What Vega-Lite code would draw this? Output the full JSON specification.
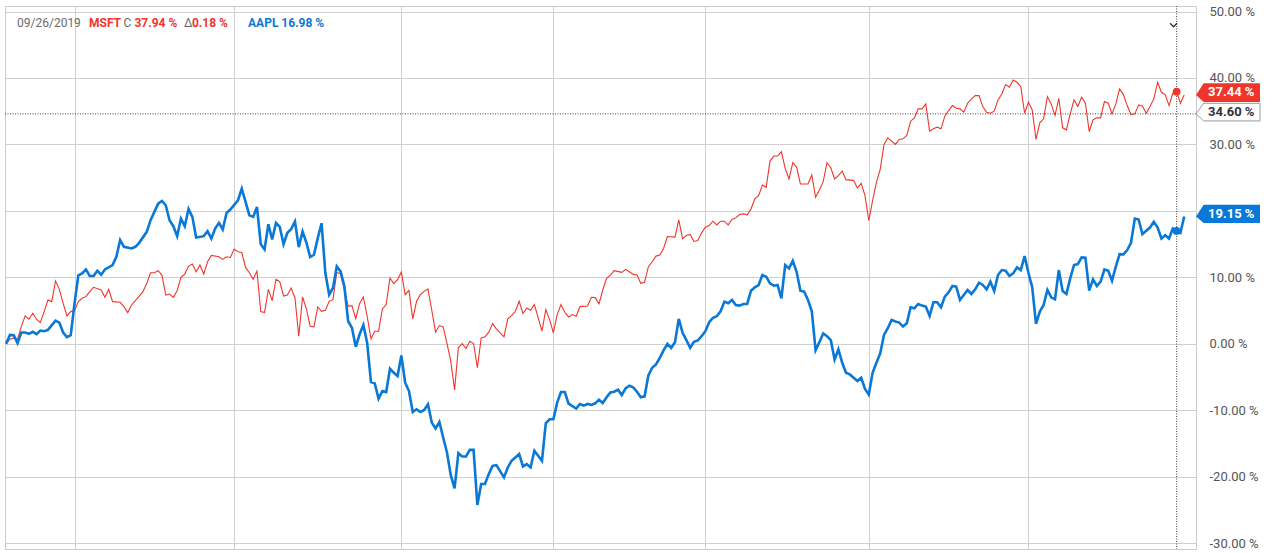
{
  "$schema": "https://vega.github.io/schema/vega-lite/v6.json",
  "width": 1191,
  "height": 543,
  "autosize": {"type": "none"},
  "padding": {"left": 5, "top": 6, "right": 84, "bottom": 4},
  "background": "white",
  "config": {"view": {"stroke": "#cccccc", "strokeWidth": 1}, "font": "Roboto"},
  "datasets": {
    "msft": [
      {"day":0,"pct":0},{"day":1,"pct":0.7},{"day":2,"pct":0.85},{"day":3,"pct":0.7},{"day":4,"pct":2.6},{"day":5,"pct":4.2},{"day":6,"pct":3.7},{"day":7,"pct":4.6},{"day":8,"pct":3.7},{"day":9,"pct":3.2},{"day":10,"pct":4.85},{"day":11,"pct":6.6},{"day":12,"pct":6.35},{"day":13,"pct":9.45},{"day":14,"pct":8.2},{"day":15,"pct":6.1},{"day":16,"pct":4.2},{"day":17,"pct":4.85},{"day":18,"pct":5.0},{"day":19,"pct":6.35},{"day":20,"pct":6.85},{"day":21,"pct":7.1},{"day":22,"pct":7.85},{"day":23,"pct":8.5},{"day":25,"pct":8.1},{"day":26,"pct":7.0},{"day":27,"pct":8.2},{"day":28,"pct":6.35},{"day":30,"pct":6.25},{"day":31,"pct":5.6},{"day":32,"pct":4.7},{"day":33,"pct":5.85},{"day":34,"pct":6.5},{"day":36,"pct":7.85},{"day":37,"pct":9.1},{"day":38,"pct":10.7},{"day":39,"pct":10.7},{"day":40,"pct":11.0},{"day":41,"pct":10.35},{"day":42,"pct":7.35},{"day":43,"pct":7.5},{"day":44,"pct":7.0},{"day":45,"pct":8.0},{"day":46,"pct":10.0},{"day":47,"pct":10.5},{"day":48,"pct":11.7},{"day":49,"pct":12.0},{"day":50,"pct":10.85},{"day":51,"pct":11.85},{"day":52,"pct":10.5},{"day":53,"pct":12.35},{"day":54,"pct":13.3},{"day":56,"pct":13.1},{"day":57,"pct":12.7},{"day":58,"pct":13.1},{"day":59,"pct":13.0},{"day":60,"pct":14.25},{"day":61,"pct":13.85},{"day":62,"pct":13.75},{"day":63,"pct":11.5},{"day":64,"pct":10.7},{"day":65,"pct":9.7},{"day":66,"pct":10.95},{"day":67,"pct":4.85},{"day":68,"pct":4.7},{"day":69,"pct":8.2},{"day":70,"pct":6.5},{"day":71,"pct":9.7},{"day":72,"pct":9.35},{"day":73,"pct":7.2},{"day":74,"pct":7.35},{"day":75,"pct":8.4},{"day":76,"pct":6.9},{"day":77,"pct":1.15},{"day":78,"pct":7.05},{"day":79,"pct":5.25},{"day":80,"pct":2.65},{"day":81,"pct":2.55},{"day":82,"pct":5.55},{"day":83,"pct":4.9},{"day":84,"pct":5.05},{"day":85,"pct":6.4},{"day":86,"pct":6.65},{"day":87,"pct":10.75},{"day":88,"pct":10.55},{"day":89,"pct":8.15},{"day":90,"pct":5.65},{"day":91,"pct":5.75},{"day":92,"pct":3.8},{"day":93,"pct":6.05},{"day":94,"pct":7.05},{"day":95,"pct":4.15},{"day":96,"pct":0.75},{"day":97,"pct":1.9},{"day":98,"pct":1.9},{"day":99,"pct":5.25},{"day":100,"pct":5.9},{"day":101,"pct":9.9},{"day":102,"pct":9.05},{"day":103,"pct":9.65},{"day":104,"pct":10.8},{"day":105,"pct":7.4},{"day":106,"pct":8.05},{"day":107,"pct":3.75},{"day":108,"pct":6.4},{"day":109,"pct":7.4},{"day":110,"pct":7.9},{"day":111,"pct":8.25},{"day":112,"pct":5.05},{"day":113,"pct":1.75},{"day":114,"pct":2.75},{"day":115,"pct":2.55},{"day":116,"pct":0.05},{"day":117,"pct":-2.6},{"day":118,"pct":-6.95},{"day":119,"pct":-0.6},{"day":120,"pct":0.05},{"day":121,"pct":-0.7},{"day":122,"pct":0.4},{"day":123,"pct":0.05},{"day":124,"pct":-3.6},{"day":125,"pct":0.9},{"day":126,"pct":1.05},{"day":127,"pct":1.75},{"day":128,"pct":3.05},{"day":129,"pct":2.25},{"day":131,"pct":1.05},{"day":132,"pct":3.75},{"day":133,"pct":4.25},{"day":134,"pct":4.9},{"day":135,"pct":6.4},{"day":136,"pct":4.55},{"day":137,"pct":5.4},{"day":138,"pct":5.05},{"day":139,"pct":5.9},{"day":141,"pct":1.9},{"day":142,"pct":5.15},{"day":143,"pct":3.65},{"day":144,"pct":1.65},{"day":145,"pct":4.4},{"day":146,"pct":5.9},{"day":147,"pct":4.75},{"day":148,"pct":4.05},{"day":149,"pct":4.4},{"day":150,"pct":4.15},{"day":151,"pct":5.6},{"day":153,"pct":5.7},{"day":154,"pct":7.0},{"day":155,"pct":6.95},{"day":156,"pct":6.0},{"day":157,"pct":8.1},{"day":158,"pct":9.85},{"day":159,"pct":10.35},{"day":160,"pct":11.0},{"day":162,"pct":10.75},{"day":163,"pct":11.2},{"day":164,"pct":10.85},{"day":165,"pct":10.45},{"day":166,"pct":10.35},{"day":167,"pct":9.1},{"day":168,"pct":9.25},{"day":169,"pct":11.6},{"day":170,"pct":12.35},{"day":171,"pct":13.2},{"day":172,"pct":13.35},{"day":173,"pct":14.35},{"day":174,"pct":16.15},{"day":176,"pct":16.05},{"day":177,"pct":18.65},{"day":178,"pct":15.8},{"day":179,"pct":16.3},{"day":180,"pct":16.45},{"day":181,"pct":15.4},{"day":182,"pct":15.55},{"day":183,"pct":16.7},{"day":184,"pct":17.55},{"day":185,"pct":17.8},{"day":186,"pct":18.45},{"day":187,"pct":17.9},{"day":188,"pct":18.45},{"day":189,"pct":18.45},{"day":190,"pct":17.9},{"day":191,"pct":18.7},{"day":192,"pct":18.95},{"day":193,"pct":19.45},{"day":194,"pct":19.55},{"day":195,"pct":19.4},{"day":196,"pct":20.3},{"day":197,"pct":21.8},{"day":198,"pct":22.3},{"day":199,"pct":23.9},{"day":200,"pct":23.55},{"day":201,"pct":27.5},{"day":202,"pct":28.25},{"day":203,"pct":28.25},{"day":204,"pct":28.9},{"day":205,"pct":26.4},{"day":206,"pct":24.8},{"day":207,"pct":27.25},{"day":208,"pct":26.6},{"day":209,"pct":24.05},{"day":211,"pct":24.05},{"day":212,"pct":25.4},{"day":213,"pct":22.05},{"day":214,"pct":23.15},{"day":215,"pct":24.4},{"day":216,"pct":27.25},{"day":217,"pct":26.5},{"day":218,"pct":24.8},{"day":219,"pct":25.3},{"day":220,"pct":26.0},{"day":221,"pct":24.7},{"day":223,"pct":24.6},{"day":224,"pct":23.45},{"day":225,"pct":24.15},{"day":226,"pct":22.3},{"day":227,"pct":18.55},{"day":228,"pct":21.55},{"day":229,"pct":24.3},{"day":230,"pct":26.25},{"day":231,"pct":30.0},{"day":232,"pct":31.0},{"day":234,"pct":30.0},{"day":235,"pct":30.75},{"day":236,"pct":30.85},{"day":237,"pct":31.35},{"day":238,"pct":33.5},{"day":239,"pct":34.0},{"day":240,"pct":35.35},{"day":241,"pct":35.35},{"day":242,"pct":36.1},{"day":243,"pct":32.0},{"day":244,"pct":32.35},{"day":245,"pct":32.6},{"day":246,"pct":32.35},{"day":247,"pct":34.25},{"day":248,"pct":35.1},{"day":249,"pct":35.85},{"day":250,"pct":35.45},{"day":251,"pct":35.35},{"day":252,"pct":34.85},{"day":253,"pct":36.2},{"day":254,"pct":36.85},{"day":255,"pct":37.35},{"day":256,"pct":37.35},{"day":257,"pct":35.7},{"day":258,"pct":34.85},{"day":259,"pct":34.7},{"day":260,"pct":35.0},{"day":261,"pct":36.7},{"day":262,"pct":37.6},{"day":263,"pct":39.0},{"day":264,"pct":38.6},{"day":265,"pct":39.7},{"day":266,"pct":39.35},{"day":267,"pct":38.7},{"day":268,"pct":34.7},{"day":269,"pct":36.35},{"day":270,"pct":35.2},{"day":271,"pct":30.75},{"day":272,"pct":33.25},{"day":273,"pct":33.85},{"day":274,"pct":37.2},{"day":275,"pct":36.1},{"day":276,"pct":34.35},{"day":277,"pct":36.95},{"day":278,"pct":32.5},{"day":279,"pct":32.2},{"day":280,"pct":34.6},{"day":281,"pct":36.7},{"day":282,"pct":35.7},{"day":283,"pct":37.1},{"day":284,"pct":36.2},{"day":285,"pct":31.95},{"day":286,"pct":33.7},{"day":287,"pct":34.0},{"day":288,"pct":34.0},{"day":289,"pct":36.45},{"day":290,"pct":36.2},{"day":291,"pct":34.6},{"day":292,"pct":36.1},{"day":293,"pct":38.35},{"day":294,"pct":37.5},{"day":295,"pct":35.85},{"day":296,"pct":34.5},{"day":297,"pct":34.6},{"day":298,"pct":35.95},{"day":299,"pct":35.75},{"day":300,"pct":34.7},{"day":301,"pct":35.7},{"day":302,"pct":36.85},{"day":303,"pct":39.35},{"day":304,"pct":37.85},{"day":305,"pct":37.5},{"day":306,"pct":35.85},{"day":307,"pct":37.7},{"day":308,"pct":37.94},{"day":309,"pct":36.2},{"day":310,"pct":37.44}
    ],
    "aapl": [
      {"day":0,"pct":0},{"day":1,"pct":1.35},{"day":2,"pct":1.3},{"day":3,"pct":0.1},{"day":4,"pct":1.7},{"day":5,"pct":1.7},{"day":6,"pct":1.5},{"day":7,"pct":1.8},{"day":8,"pct":1.45},{"day":9,"pct":2.0},{"day":10,"pct":1.9},{"day":11,"pct":2.1},{"day":13,"pct":3.5},{"day":14,"pct":3.2},{"day":15,"pct":1.7},{"day":16,"pct":1.0},{"day":17,"pct":1.3},{"day":18,"pct":6.1},{"day":19,"pct":10.3},{"day":20,"pct":10.6},{"day":21,"pct":11.2},{"day":22,"pct":10.2},{"day":23,"pct":10.2},{"day":24,"pct":11.0},{"day":25,"pct":10.4},{"day":26,"pct":11.2},{"day":28,"pct":11.85},{"day":29,"pct":13.1},{"day":30,"pct":15.6},{"day":31,"pct":14.6},{"day":33,"pct":14.35},{"day":34,"pct":14.6},{"day":35,"pct":15.2},{"day":37,"pct":16.85},{"day":38,"pct":18.6},{"day":40,"pct":21.1},{"day":41,"pct":21.5},{"day":42,"pct":20.85},{"day":43,"pct":18.6},{"day":44,"pct":17.7},{"day":45,"pct":16.2},{"day":46,"pct":18.85},{"day":47,"pct":17.7},{"day":48,"pct":20.3},{"day":49,"pct":19.1},{"day":50,"pct":16.0},{"day":52,"pct":16.2},{"day":53,"pct":16.95},{"day":54,"pct":15.85},{"day":55,"pct":17.35},{"day":56,"pct":18.2},{"day":57,"pct":17.2},{"day":58,"pct":19.7},{"day":59,"pct":20.2},{"day":61,"pct":21.6},{"day":62,"pct":23.35},{"day":63,"pct":21.35},{"day":64,"pct":19.35},{"day":65,"pct":19.1},{"day":66,"pct":20.6},{"day":67,"pct":15.0},{"day":68,"pct":14.2},{"day":69,"pct":18.0},{"day":70,"pct":15.7},{"day":71,"pct":18.2},{"day":72,"pct":17.6},{"day":73,"pct":15.0},{"day":74,"pct":16.7},{"day":75,"pct":17.25},{"day":76,"pct":18.4},{"day":77,"pct":14.55},{"day":78,"pct":16.9},{"day":79,"pct":15.25},{"day":80,"pct":13.05},{"day":81,"pct":13.4},{"day":82,"pct":15.9},{"day":83,"pct":18.15},{"day":84,"pct":10.65},{"day":85,"pct":7.4},{"day":86,"pct":8.4},{"day":87,"pct":11.65},{"day":88,"pct":10.9},{"day":89,"pct":8.65},{"day":90,"pct":3.4},{"day":91,"pct":2.4},{"day":92,"pct":-0.45},{"day":93,"pct":1.4},{"day":94,"pct":2.85},{"day":95,"pct":0.15},{"day":96,"pct":-5.75},{"day":97,"pct":-5.95},{"day":98,"pct":-8.25},{"day":99,"pct":-7.1},{"day":100,"pct":-7.25},{"day":101,"pct":-3.75},{"day":102,"pct":-4.35},{"day":103,"pct":-4.85},{"day":104,"pct":-1.75},{"day":105,"pct":-5.85},{"day":106,"pct":-7.1},{"day":107,"pct":-10.25},{"day":108,"pct":-9.85},{"day":109,"pct":-10.25},{"day":110,"pct":-9.95},{"day":111,"pct":-9.1},{"day":112,"pct":-11.85},{"day":113,"pct":-12.75},{"day":114,"pct":-11.75},{"day":115,"pct":-14.1},{"day":116,"pct":-16.35},{"day":117,"pct":-19.75},{"day":118,"pct":-21.75},{"day":119,"pct":-16.45},{"day":120,"pct":-16.95},{"day":121,"pct":-16.95},{"day":122,"pct":-15.95},{"day":123,"pct":-15.95},{"day":124,"pct":-24.25},{"day":125,"pct":-21.1},{"day":126,"pct":-21.1},{"day":127,"pct":-19.6},{"day":128,"pct":-18.35},{"day":129,"pct":-18.25},{"day":131,"pct":-20.1},{"day":132,"pct":-18.6},{"day":133,"pct":-17.6},{"day":135,"pct":-16.6},{"day":136,"pct":-18.45},{"day":137,"pct":-18.1},{"day":138,"pct":-18.6},{"day":139,"pct":-16.1},{"day":141,"pct":-17.6},{"day":142,"pct":-11.95},{"day":143,"pct":-11.35},{"day":144,"pct":-11.35},{"day":145,"pct":-8.85},{"day":146,"pct":-7.25},{"day":147,"pct":-7.25},{"day":148,"pct":-9.0},{"day":150,"pct":-9.75},{"day":151,"pct":-9.05},{"day":152,"pct":-9.3},{"day":153,"pct":-9.05},{"day":154,"pct":-9.2},{"day":155,"pct":-8.95},{"day":156,"pct":-8.4},{"day":157,"pct":-8.9},{"day":158,"pct":-8.05},{"day":159,"pct":-7.3},{"day":160,"pct":-7.2},{"day":161,"pct":-6.9},{"day":162,"pct":-7.7},{"day":163,"pct":-6.7},{"day":164,"pct":-6.3},{"day":165,"pct":-6.55},{"day":166,"pct":-7.2},{"day":167,"pct":-8.05},{"day":168,"pct":-7.9},{"day":169,"pct":-4.75},{"day":170,"pct":-3.6},{"day":171,"pct":-3.1},{"day":172,"pct":-2.1},{"day":173,"pct":-1.0},{"day":174,"pct":0.0},{"day":175,"pct":-0.6},{"day":176,"pct":0.25},{"day":177,"pct":3.75},{"day":178,"pct":1.65},{"day":179,"pct":0.55},{"day":180,"pct":-0.6},{"day":181,"pct":0.3},{"day":182,"pct":0.5},{"day":183,"pct":1.15},{"day":184,"pct":1.9},{"day":185,"pct":3.25},{"day":186,"pct":3.9},{"day":187,"pct":4.15},{"day":188,"pct":4.9},{"day":189,"pct":6.35},{"day":190,"pct":6.1},{"day":191,"pct":6.6},{"day":192,"pct":5.85},{"day":193,"pct":5.75},{"day":194,"pct":6.0},{"day":195,"pct":6.0},{"day":196,"pct":8.0},{"day":197,"pct":8.5},{"day":198,"pct":8.85},{"day":199,"pct":10.35},{"day":200,"pct":10.1},{"day":201,"pct":9.1},{"day":202,"pct":8.75},{"day":203,"pct":8.85},{"day":204,"pct":6.85},{"day":205,"pct":11.85},{"day":206,"pct":11.35},{"day":207,"pct":12.5},{"day":208,"pct":10.85},{"day":209,"pct":8.0},{"day":210,"pct":7.85},{"day":211,"pct":6.6},{"day":212,"pct":4.9},{"day":213,"pct":-0.95},{"day":214,"pct":0.25},{"day":215,"pct":1.55},{"day":216,"pct":1.15},{"day":217,"pct":0.55},{"day":218,"pct":-2.35},{"day":219,"pct":-0.85},{"day":220,"pct":-2.85},{"day":221,"pct":-4.35},{"day":222,"pct":-4.6},{"day":223,"pct":-5.1},{"day":224,"pct":-5.6},{"day":225,"pct":-5.1},{"day":226,"pct":-6.8},{"day":227,"pct":-7.65},{"day":228,"pct":-4.35},{"day":229,"pct":-2.85},{"day":230,"pct":-1.45},{"day":231,"pct":1.35},{"day":232,"pct":2.35},{"day":233,"pct":3.6},{"day":234,"pct":3.35},{"day":235,"pct":3.2},{"day":236,"pct":2.6},{"day":237,"pct":3.1},{"day":238,"pct":5.5},{"day":239,"pct":5.35},{"day":240,"pct":6.0},{"day":241,"pct":5.75},{"day":242,"pct":5.6},{"day":243,"pct":4.2},{"day":244,"pct":6.25},{"day":245,"pct":6.25},{"day":246,"pct":5.5},{"day":247,"pct":7.1},{"day":248,"pct":7.75},{"day":249,"pct":8.7},{"day":250,"pct":8.6},{"day":251,"pct":6.6},{"day":252,"pct":7.35},{"day":253,"pct":8.1},{"day":254,"pct":7.5},{"day":255,"pct":8.2},{"day":256,"pct":9.2},{"day":257,"pct":8.85},{"day":258,"pct":8.2},{"day":259,"pct":9.35},{"day":260,"pct":7.95},{"day":261,"pct":10.35},{"day":262,"pct":11.1},{"day":263,"pct":11.0},{"day":264,"pct":10.2},{"day":265,"pct":10.6},{"day":266,"pct":11.5},{"day":267,"pct":11.1},{"day":268,"pct":13.2},{"day":269,"pct":10.7},{"day":270,"pct":8.5},{"day":271,"pct":3.0},{"day":272,"pct":4.85},{"day":273,"pct":5.85},{"day":274,"pct":8.1},{"day":275,"pct":7.0},{"day":276,"pct":6.7},{"day":277,"pct":11.1},{"day":278,"pct":7.95},{"day":279,"pct":7.5},{"day":280,"pct":9.85},{"day":281,"pct":11.85},{"day":282,"pct":12.0},{"day":283,"pct":13.0},{"day":284,"pct":12.95},{"day":285,"pct":8.0},{"day":286,"pct":9.7},{"day":287,"pct":8.7},{"day":288,"pct":9.35},{"day":289,"pct":11.2},{"day":290,"pct":11.0},{"day":291,"pct":9.5},{"day":292,"pct":11.6},{"day":293,"pct":13.5},{"day":294,"pct":13.45},{"day":295,"pct":14.1},{"day":296,"pct":15.2},{"day":297,"pct":18.85},{"day":298,"pct":18.7},{"day":299,"pct":16.5},{"day":300,"pct":17.0},{"day":301,"pct":17.5},{"day":302,"pct":18.35},{"day":303,"pct":17.5},{"day":304,"pct":15.85},{"day":305,"pct":16.35},{"day":306,"pct":15.85},{"day":307,"pct":17.35},{"day":308,"pct":16.98},{"day":309,"pct":16.7},{"day":310,"pct":19.15}
    ]
  },
  "layer": [
    {"data": {"name": "msft"}, "mark": {"type": "line", "color": "#f0352b", "strokeWidth": 1.1},
      "encoding": {
        "x": {"field": "day", "type": "quantitative",
          "scale": {"domain": [-0.3, 313.1], "nice": false, "zero": false},
          "axis": {"values": [18, 60, 104, 144, 184, 227, 269], "grid": true, "gridColor": "#d0d0d0", "labels": false, "ticks": false, "domain": false, "title": null}},
        "y": {"field": "pct", "type": "quantitative",
          "scale": {"domain": [-30.87, 50.83], "nice": false, "zero": false},
          "axis": {"orient": "right", "values": [-30, -20, -10, 0, 10, 20, 30, 40, 50], "grid": true, "gridColor": "#d0d0d0", "ticks": false, "domain": false, "title": null,
            "labelPadding": 13, "labelFont": "Roboto", "labelFontSize": 13, "labelColor": "#555555", "labelOverlap": false, "labelBound": false, "labelFlush": false,
            "labelExpr": "datum.value == 20 ? '' : replace(format(datum.value, '.2f'), '−', '-') + ' %'"}}
      }},
    {"data": {"name": "aapl"}, "mark": {"type": "line", "color": "#0a78d6", "strokeWidth": 2.6},
      "encoding": {
        "x": {"field": "day", "type": "quantitative", "scale": {"domain": [-0.3, 313.1], "nice": false, "zero": false}},
        "y": {"field": "pct", "type": "quantitative", "scale": {"domain": [-30.87, 50.83], "nice": false, "zero": false}}
      }},
    {"data": {"name": "msft"}, "transform": [{"filter": "datum.day == 0"}],
      "mark": {"type": "rule", "color": "#444444", "strokeWidth": 1, "strokeDash": [1, 1.5]},
      "encoding": {"x": {"datum": 308}}},
    {"data": {"name": "msft"}, "transform": [{"filter": "datum.day == 0"}],
      "mark": {"type": "rule", "color": "#444444", "strokeWidth": 1, "strokeDash": [1, 1.5]},
      "encoding": {"y": {"datum": 34.6}}},
    {"data": {"name": "msft"}, "transform": [{"filter": "datum.day == 308"}],
      "mark": {"type": "point", "shape": "circle", "filled": true, "opacity": 1, "color": "#f0352b", "size": 60},
      "encoding": {"x": {"field": "day", "type": "quantitative"}, "y": {"field": "pct", "type": "quantitative"}}},
    {"data": {"name": "aapl"}, "transform": [{"filter": "datum.day == 308"}],
      "mark": {"type": "point", "shape": "circle", "filled": true, "opacity": 1, "color": "#0a78d6", "size": 60},
      "encoding": {"x": {"field": "day", "type": "quantitative"}, "y": {"field": "pct", "type": "quantitative"}}},
    {"data": {"name": "msft"}, "transform": [{"filter": "datum.day == 0"}],
      "mark": {"type": "point", "shape": "M-1,-0.5L0,0.5L1,-0.5", "filled": false, "stroke": "#333333", "strokeWidth": 1.3, "size": 49, "opacity": 1},
      "encoding": {"x": {"datum": 307.2}, "y": {"datum": 47.97}}},
    {"data": {"name": "msft"}, "transform": [{"filter": "datum.day == 0"}],
      "mark": {"type": "point", "shape": "M0,0L0.24,-0.33L2,-0.33L2,0.22L0.24,0.22Z", "size": 4096, "filled": true, "fill": "#ffffff", "stroke": "#9a9a9a", "strokeWidth": 1, "opacity": 1},
      "encoding": {"x": {"datum": 313.1}, "y": {"datum": 34.6}}},
    {"data": {"name": "msft"}, "transform": [{"filter": "datum.day == 0"}],
      "mark": {"type": "text", "align": "left", "baseline": "middle", "dx": 12, "dy": -2, "font": "Roboto", "fontSize": 13, "fontWeight": "bold", "color": "#333333"},
      "encoding": {"x": {"datum": 313.1}, "y": {"datum": 34.6}, "text": {"value": "34.60 %"}}},
    {"data": {"name": "msft"}, "transform": [{"filter": "datum.day == 310"}],
      "mark": {"type": "point", "shape": "M0,0L0.24,-0.37L2,-0.37L2,0.22L0.24,0.22Z", "size": 4096, "filled": true, "color": "#f0352b", "strokeWidth": 0, "opacity": 1},
      "encoding": {"x": {"datum": 313.1}, "y": {"field": "pct", "type": "quantitative"}}},
    {"data": {"name": "msft"}, "transform": [{"filter": "datum.day == 310"}, {"calculate": "format(datum.pct, '.2f') + ' %'", "as": "label"}],
      "mark": {"type": "text", "align": "left", "baseline": "middle", "dx": 12, "dy": -2.5, "font": "Roboto", "fontSize": 13, "fontWeight": "bold", "color": "#ffffff"},
      "encoding": {"x": {"datum": 313.1}, "y": {"field": "pct", "type": "quantitative"}, "text": {"field": "label"}}},
    {"data": {"name": "aapl"}, "transform": [{"filter": "datum.day == 310"}],
      "mark": {"type": "point", "shape": "M0,0L0.24,-0.37L2,-0.37L2,0.2L0.24,0.2Z", "size": 4096, "filled": true, "color": "#0a78d6", "strokeWidth": 0, "opacity": 1},
      "encoding": {"x": {"datum": 313.1}, "y": {"field": "pct", "type": "quantitative"}}},
    {"data": {"name": "aapl"}, "transform": [{"filter": "datum.day == 310"}, {"calculate": "format(datum.pct, '.2f') + ' %'", "as": "label"}],
      "mark": {"type": "text", "align": "left", "baseline": "middle", "dx": 12, "dy": -2.5, "font": "Roboto", "fontSize": 13, "fontWeight": "bold", "color": "#ffffff"},
      "encoding": {"x": {"datum": 313.1}, "y": {"field": "pct", "type": "quantitative"}, "text": {"field": "label"}}},
    {"data": {"name": "msft"}, "transform": [{"filter": "datum.day == 0"}],
      "mark": {"type": "text", "align": "left", "baseline": "middle", "font": "Roboto", "fontSize": 12, "color": "#6b6b6b"},
      "encoding": {"x": {"datum": 2.86}, "y": {"datum": 48.27}, "text": {"value": "09/26/2019"}}},
    {"data": {"name": "msft"}, "transform": [{"filter": "datum.day == 0"}],
      "mark": {"type": "text", "align": "left", "baseline": "middle", "font": "Roboto", "fontSize": 12, "fontWeight": "bold", "color": "#f0352b"},
      "encoding": {"x": {"datum": 21.8}, "y": {"datum": 48.27}, "text": {"value": "MSFT"}}},
    {"data": {"name": "msft"}, "transform": [{"filter": "datum.day == 0"}],
      "mark": {"type": "text", "align": "left", "baseline": "middle", "font": "Roboto", "fontSize": 12, "color": "#6b6b6b"},
      "encoding": {"x": {"datum": 30.85}, "y": {"datum": 48.27}, "text": {"value": "C"}}},
    {"data": {"name": "msft"}, "transform": [{"filter": "datum.day == 0"}],
      "mark": {"type": "text", "align": "left", "baseline": "middle", "font": "Roboto", "fontSize": 12, "fontWeight": "bold", "color": "#f0352b"},
      "encoding": {"x": {"datum": 33.75}, "y": {"datum": 48.27}, "text": {"value": "37.94 %"}}},
    {"data": {"name": "msft"}, "transform": [{"filter": "datum.day == 0"}],
      "mark": {"type": "text", "align": "left", "baseline": "middle", "font": "Roboto", "fontSize": 12, "color": "#6b6b6b"},
      "encoding": {"x": {"datum": 46.8}, "y": {"datum": 48.27}, "text": {"value": "Δ"}}},
    {"data": {"name": "msft"}, "transform": [{"filter": "datum.day == 0"}],
      "mark": {"type": "text", "align": "left", "baseline": "middle", "font": "Roboto", "fontSize": 12, "fontWeight": "bold", "color": "#f0352b"},
      "encoding": {"x": {"datum": 48.9}, "y": {"datum": 48.27}, "text": {"value": "0.18 %"}}},
    {"data": {"name": "msft"}, "transform": [{"filter": "datum.day == 0"}],
      "mark": {"type": "text", "align": "left", "baseline": "middle", "font": "Roboto", "fontSize": 12, "fontWeight": "bold", "color": "#0a78d6"},
      "encoding": {"x": {"datum": 63.65}, "y": {"datum": 48.27}, "text": {"value": "AAPL 16.98 %"}}}
  ]
}
